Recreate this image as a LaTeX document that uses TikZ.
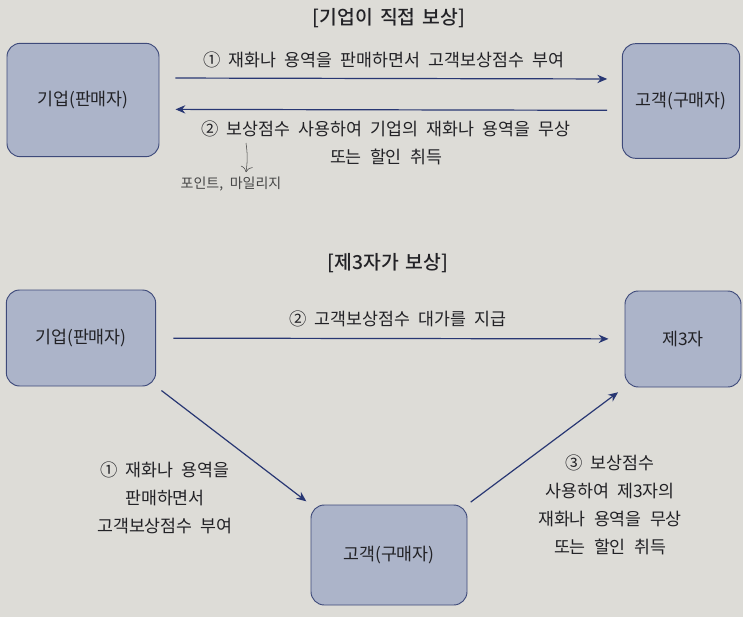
\documentclass[tikz,border=0pt]{standalone}
\usepackage{fontspec}
\setmainfont{Noto Sans CJK KR}[WordSpace=2.1]
\newfontfamily\headfont{Noto Sans CJK KR Medium}[WordSpace=1.6]
\usepackage{tikz}
\usetikzlibrary{positioning,arrows.meta,calc}
\definecolor{paper}{RGB}{221,220,215}
\definecolor{boxfill}{RGB}{172,180,201}
\definecolor{boxrule}{RGB}{62,74,122}
\definecolor{arrowblue}{RGB}{40,55,115}
\definecolor{inkgrey}{RGB}{34,34,38}
\definecolor{pencil}{RGB}{70,70,70}
\tikzset{
  party/.style={rectangle,rounded corners=10pt,draw=boxrule,fill=boxfill,line width=0.7pt,text=inkgrey,align=center,inner sep=0pt},
  steptext/.style={text=inkgrey,align=center,inner sep=1pt,font=\fontsize{13}{21}\selectfont},
  heading/.style={text=inkgrey,inner sep=1pt,font=\fontsize{14.5}{16}\headfont},
  flow/.style={-{Stealth[length=2.6mm,width=2.2mm]},draw=arrowblue,line width=0.9pt},
  note/.style={-{To[length=1.5mm]},draw=pencil,line width=0.4pt}
}
\begin{document}
\begin{tikzpicture}[x=0.75pt,y=-0.75pt,font=\fontsize{13}{15}\selectfont]
  \fill[paper] (0,0) rectangle (743,617);
  \useasboundingbox (0,0) rectangle (743,617);

  % direct reward
  \node[heading] (title1) at (389,18) {[기업이 직접 보상]};
  \node[party,minimum width=114pt,minimum height=85pt] (firm1) at (83,100) {기업(판매자)};
  \node[party,minimum width=88pt,minimum height=86pt] (cust1) at (681,101) {고객(구매자)};
  \draw[flow,shorten <=12pt,shorten >=11pt] ([yshift=16.5pt]firm1.east) -- ([yshift=16.5pt]cust1.west);
  \draw[flow,shorten <=11pt,shorten >=12pt] ([yshift=-7pt]cust1.west) -- ([yshift=-7pt]firm1.east);
  \node[steptext] (give1) at (384,60) {① 재화나 용역을 판매하면서 고객보상점수 부여};
  \node[steptext] (use1) at (386,143) {② 보상점수 사용하여 기업의 재화나 용역을 무상\\또는 할인 취득};
  \coordinate (memo) at (246,143);
  \node[text=pencil,font=\fontsize{10.5}{12}\selectfont] (points) at (231,184) {포인트, 마일리지};
  \draw[note] (memo) to[bend left=8] (points.north -| memo);

  % third-party reward
  \node[heading] (title2) at (388,263) {[제3자가 보상]};
  \node[party,minimum width=112pt,minimum height=72pt] (firm2) at (81,338) {기업(판매자)};
  \node[party,minimum width=87pt,minimum height=72pt] (third2) at (683,339) {제3자};
  \node[party,minimum width=117pt,minimum height=75pt] (cust2) at (389,555) {고객(구매자)};
  \draw[flow,shorten <=13pt,shorten >=12pt] (firm2) -- (third2);
  \node[steptext] (pay2) at (398,319) {② 고객보상점수 대가를 지급};
  \draw[flow,shorten <=5pt,shorten >=4pt] (firm2.south east) -- (cust2.north west);
  \draw[flow,shorten <=3pt,shorten >=6pt] (cust2.north east) -- (third2.south west);
  \node[steptext] (give2) at (165,498) {① 재화나 용역을\\판매하면서\\고객보상점수 부여};
  \node[steptext] (use2) at (610,505) {③ 보상점수\\사용하여 제3자의\\재화나 용역을 무상\\또는 할인 취득};
\end{tikzpicture}
\end{document}
